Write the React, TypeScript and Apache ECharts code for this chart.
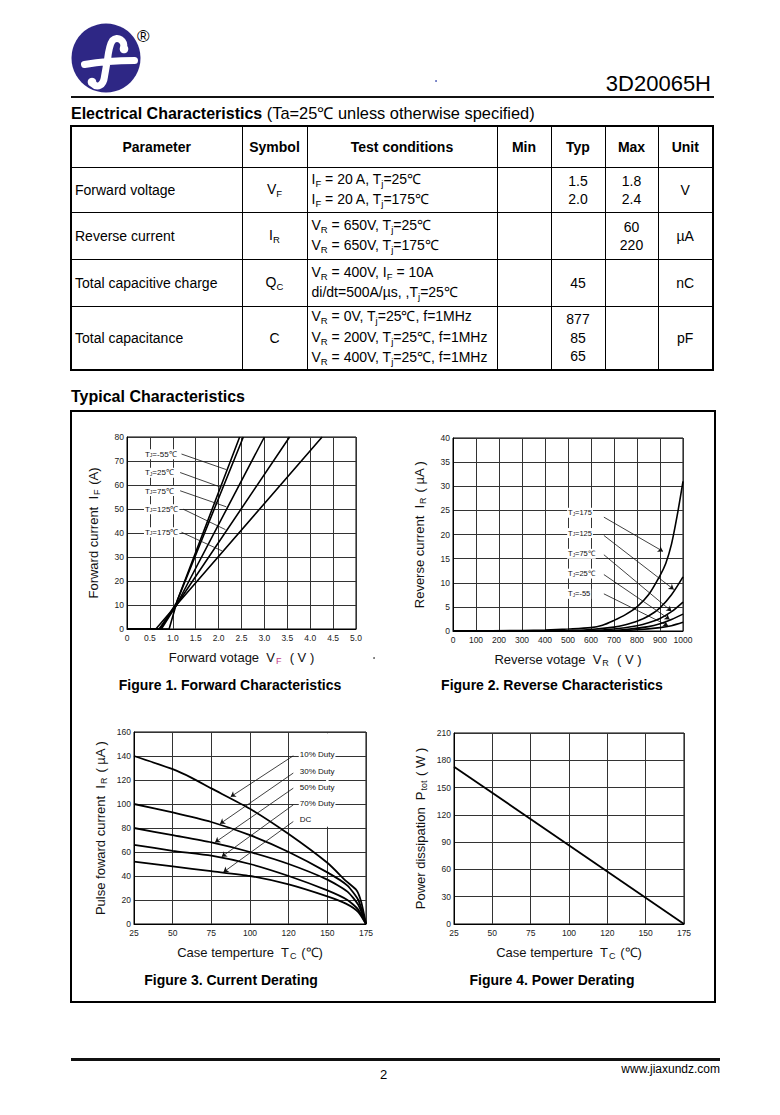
import React, { useEffect, useRef } from "react";
import * as echarts from "echarts";

const FONT = '"Liberation Sans", Arial, Helvetica, sans-serif';

// ---------- Figure 1: Forward characteristics  IF (A) vs VF (V)
const fwdTemps = ["=-55℃", "=25℃", "=75℃", "=125℃", "=175℃"];
const fwdCurveM55 = [[0, 0], [0.92, 0], [1.1, 12], [2.46, 80]];
const fwdCurve25 = [[0, 0], [0.72, 0], [1.08, 11], [2.54, 80]];
const fwdCurve75 = [[0, 0], [0.75, 0], [1.08, 10], [3.0, 80]];
const fwdCurve125 = [[0, 0], [0.7, 0], [1.08, 10], [3.55, 80]];
const fwdCurve175 = [[0, 0], [0.63, 0], [1.08, 10], [4.26, 80]];
const fwdLabelAt = [[0.36, 72.8], [0.36, 65.1], [0.36, 57.5], [0.36, 49.9], [0.36, 40.3]];
const fwdPointers = [
  [[1.19, 72.9], [2.17, 66.4]],
  [[1.16, 65.2], [2.06, 59.0]],
  [[1.16, 57.6], [2.17, 50.9]],
  [[1.23, 49.9], [2.15, 41.4]],
  [[1.19, 40.3], [2.08, 32.5]],
];

// ---------- Figure 2: Reverse characteristics  IR (µA) vs VR (V)
const revTemps = ["=175", "=125", "=75℃", "=25℃", "=-55"];
const revCurve175 = [[0, 0], [300, 0.1], [400, 0.2], [500, 0.4], [600, 0.7], [650, 1.2], [700, 2.2], [750, 3.4], [800, 5], [850, 7.5], [900, 11.5], [925, 14], [950, 18], [975, 24], [1000, 31]];
const revCurve125 = [[0, 0], [500, 0.1], [600, 0.3], [700, 0.8], [750, 1.3], [800, 2], [850, 3.1], [900, 4.8], [950, 7.5], [1000, 11.2]];
const revCurve75 = [[0, 0], [600, 0.1], [700, 0.4], [800, 1.1], [850, 1.7], [900, 2.6], [950, 4], [1000, 6]];
const revCurve25 = [[0, 0], [650, 0.05], [750, 0.3], [850, 0.9], [900, 1.5], [950, 2.4], [1000, 3.5]];
const revCurveM55 = [[0, 0], [700, 0.05], [800, 0.25], [900, 0.7], [950, 1.1], [1000, 1.8]];
const revLabelAt = [[494, 24.5], [494, 20.3], [494, 16.0], [494, 11.9], [494, 7.7]];
const revPointers = [
  [[656, 23.6], [913, 16.5]],
  [[656, 19.8], [960, 8.6]],
  [[656, 15.8], [950, 4.1]],
  [[656, 11.7], [942, 2.4]],
  [[656, 7.7], [935, 1.1]],
];

// ---------- Figure 3: Current derating  IF vs TC (℃)
const derateXLabels = ["25", "50", "75", "100", "120", "150", "175"];
const dutyNames = ["10% Duty", "30% Duty", "50% Duty", "70% Duty", "DC"];
const duty10 = [[25, 140], [50, 129], [62, 122], [75, 113], [100, 96], [125, 75], [150, 51], [162, 36], [169, 28], [172, 18], [175, 0]];
const duty30 = [[25, 100], [50, 93], [75, 85], [100, 74], [125, 60], [150, 43], [163, 32], [170, 20], [175, 0]];
const duty50 = [[25, 80], [50, 74], [75, 68], [100, 60], [125, 50], [150, 37], [163, 27], [170, 16], [175, 0]];
const duty70 = [[25, 66], [50, 61], [75, 57], [100, 50], [125, 40], [150, 28], [163, 20], [170, 12], [175, 0]];
const dutyDC = [[25, 52], [50, 48], [75, 44], [100, 40], [125, 33], [150, 23], [162, 17], [170, 10], [175, 0]];
const dutyLabelAt = [[131.2, 141.6], [131.2, 127.2], [131.2, 113.8], [131.2, 100.2], [131.2, 86.8]];
const dutyPointers = [
  [[128, 140.2], [87.5, 106.0]],
  [[128, 125.8], [80.6, 83.5]],
  [[128, 113.2], [77.4, 68.0]],
  [[128, 99.3], [81.7, 56.0]],
  [[128, 85.4], [82.8, 43.2]],
];
// the 150 ℃ grid line is interrupted above 80 in the original
const dutyGridGap = [[150, 81], [150, 159]];

// ---------- Figure 4: Power derating  Ptot (W) vs TC (℃)
const powerLine = [[25, 173], [175, 0]];

// logo glyph (stroke path, local 69x69 box)
const LOGO_F =
  "M 52 25 C 54 17 46 12 41 17 C 38 21 37 28 36 36 L 33 53 C 32 62 26 65 21 60 M 13 41 C 30 38 50 37 63 37";
echarts.graphic.registerShape("logoF", echarts.graphic.extendPath(LOGO_F, {}));

const nameRich = {
  a: { fontFamily: FONT, fontSize: 13, color: "#111", lineHeight: 18 },
  s: { fontFamily: FONT, fontSize: 9, color: "#111", padding: [7, 1, 0, 1] },
  p: { fontFamily: FONT, fontSize: 9, color: "#c03a86", padding: [7, 1, 0, 1] },
};

function tLabel(rest: string) {
  return "{a|T}{s|J}{a|" + rest + "}";
}

function makeX(gridIndex: number, min: number, max: number, interval: number, name: string, fmt?: any) {
  return {
    type: "value",
    gridIndex,
    min,
    max,
    interval,
    name,
    nameLocation: "middle",
    nameGap: 19,
    nameTextStyle: { fontFamily: FONT, fontSize: 13, color: "#111", rich: nameRich },
    axisLine: { show: true, lineStyle: { color: "#000", width: 1 } },
    axisTick: { show: false },
    axisLabel: { fontFamily: FONT, fontSize: 8.5, color: "#222", margin: 4, formatter: fmt || ((v: number) => String(v)) },
    splitLine: { show: true, lineStyle: { color: "#333", width: 1 } },
  };
}

function makeY(gridIndex: number, min: number, max: number, interval: number, name: string) {
  return {
    type: "value",
    gridIndex,
    min,
    max,
    interval,
    name,
    nameLocation: "middle",
    nameGap: 25,
    nameTextStyle: { fontFamily: FONT, fontSize: 13, color: "#111", rich: nameRich },
    axisLine: { show: true, lineStyle: { color: "#000", width: 1 } },
    axisTick: { show: false },
    axisLabel: { fontFamily: FONT, fontSize: 8.5, color: "#222", margin: 3, formatter: (v: number) => String(v) },
    splitLine: { show: true, lineStyle: { color: "#333", width: 1 } },
  };
}

function curve(idx: number, data: number[][], width: number, smooth: any = false) {
  return {
    type: "line",
    xAxisIndex: idx,
    yAxisIndex: idx,
    data,
    symbol: "none",
    smooth,
    silent: true,
    lineStyle: { color: "#000", width },
    z: 3,
  };
}

function pointers(idx: number, list: number[][][], arrow: boolean) {
  return {
    type: "lines",
    coordinateSystem: "cartesian2d",
    xAxisIndex: idx,
    yAxisIndex: idx,
    silent: true,
    symbol: arrow ? ["none", "arrow"] : ["none", "none"],
    symbolSize: 5,
    lineStyle: { color: "#111", width: 0.8, opacity: 1, curveness: 0 },
    data: list.map((c) => ({ coords: c })),
    z: 4,
  };
}

function labels(idx: number, pos: number[][], texts: string[], size: number) {
  return {
    type: "scatter",
    xAxisIndex: idx,
    yAxisIndex: idx,
    silent: true,
    symbolSize: 1,
    itemStyle: { color: "rgba(0,0,0,0)" },
    z: 5,
    data: pos.map((p, i) => ({ value: p, name: texts[i] })),
    labelLayout: { hideOverlap: false },
    label: {
      show: true,
      position: "right",
      distance: 0,
      formatter: (p: any) => p.name,
      backgroundColor: "#fff",
      padding: [1, 1, 1, 1],
      rich: {
        a: { fontFamily: FONT, fontSize: size, color: "#111" },
        s: { fontFamily: FONT, fontSize: size * 0.62, color: "#111", padding: [3, 0, 0, 0] },
      },
      fontFamily: FONT,
      fontSize: size,
      color: "#111",
      opacity: 1,
    },
  };
}

function caption(text: string, x: number, y: number) {
  return {
    type: "text",
    x,
    y,
    silent: true,
    style: {
      text,
      font: 'bold 14px "Liberation Sans", Arial, sans-serif',
      fill: "#000",
      textAlign: "center",
      align: "center",
      textVerticalAlign: "middle",
      verticalAlign: "middle",
    },
  };
}

const option: any = {
  animation: false,
  backgroundColor: "transparent",
  grid: [
    { left: 127, top: 437, width: 229, height: 192, show: true, borderColor: "#000", borderWidth: 1 },
    { left: 453, top: 438, width: 230, height: 193, show: true, borderColor: "#000", borderWidth: 1 },
    { left: 134, top: 732, width: 232, height: 192, show: true, borderColor: "#000", borderWidth: 1 },
    { left: 454, top: 733, width: 230, height: 191, show: true, borderColor: "#000", borderWidth: 1 },
  ],
  xAxis: [
    makeX(0, 0, 5, 0.5, "{a|Forward votage  V}{p|F}{a|  ( V )}", (v: number) => (v === 0 ? "0" : v.toFixed(1))),
    makeX(1, 0, 1000, 100, "{a|Reverse votage  V}{s|R}{a|  ( V )}"),
    makeX(2, 25, 175, 25, "{a|Case temperture  T}{s|C}{a| (℃)}", (v: number) => derateXLabels[Math.round((v - 25) / 25)]),
    makeX(3, 25, 175, 25, "{a|Case temperture  T}{s|C}{a| (℃)}", (v: number) => derateXLabels[Math.round((v - 25) / 25)]),
  ],
  yAxis: [
    makeY(0, 0, 80, 10, "{a|Forward current  I}{s|F}{a| (A)}"),
    makeY(1, 0, 40, 5, "{a|Reverse current  I}{s|R}{a| ( µA )}"),
    makeY(2, 0, 160, 20, "{a|Pulse foward current  I}{s|R}{a| ( µA )}"),
    makeY(3, 0, 210, 30, "{a|Power dissipation  P}{s|tot}{a| ( W )}"),
  ],
  series: [
    curve(0, fwdCurveM55, 1.6),
    curve(0, fwdCurve25, 1.6),
    curve(0, fwdCurve75, 1.6),
    curve(0, fwdCurve125, 1.6),
    curve(0, fwdCurve175, 1.6),
    pointers(0, fwdPointers, false),
    labels(0, fwdLabelAt, fwdTemps.map(tLabel), 8),

    curve(1, revCurve175, 1.6, 0.3),
    curve(1, revCurve125, 1.6, 0.3),
    curve(1, revCurve75, 1.6, 0.3),
    curve(1, revCurve25, 1.6, 0.3),
    curve(1, revCurveM55, 1.6, 0.3),
    pointers(1, revPointers, true),
    labels(1, revLabelAt, revTemps.map(tLabel), 7.5),

    // white mask over the interrupted 150 ℃ grid line (drawn under curves)
    {
      type: "line",
      xAxisIndex: 2,
      yAxisIndex: 2,
      data: dutyGridGap,
      symbol: "none",
      silent: true,
      lineStyle: { color: "#fff", width: 2.5, cap: "butt" },
      z: 1,
    },
    curve(2, duty10, 1.8, 0.2),
    curve(2, duty30, 1.8, 0.2),
    curve(2, duty50, 1.8, 0.2),
    curve(2, duty70, 1.8, 0.2),
    curve(2, dutyDC, 1.8, 0.2),
    pointers(2, dutyPointers, true),
    labels(2, dutyLabelAt, dutyNames.map((d) => "{a|" + d + "}"), 8),

    curve(3, powerLine, 1.8),
  ],
  graphic: [
    {
      type: "rect",
      silent: true,
      shape: { x: 71, y: 411, width: 644, height: 591 },
      style: { fill: "none", stroke: "#000", lineWidth: 2 },
    },
    caption("Figure 1. Forward Characteristics", 230, 685),
    caption("Figure 2. Reverse Characteristics", 552, 685),
    caption("Figure 3. Current Derating", 231, 980),
    caption("Figure 4. Power Derating", 552, 980),
    { type: "circle", silent: true, shape: { cx: 374, cy: 658, r: 0.8 }, style: { fill: "#444" } },
    { type: "circle", silent: true, shape: { cx: 436, cy: 81, r: 0.8 }, style: { fill: "#3344aa" } },
    // logo
    { type: "circle", silent: true, shape: { cx: 106, cy: 58, r: 34.5 }, style: { fill: "#2e2785" } },
    {
      type: "logoF",
      silent: true,
      x: 71.5,
      y: 23.5,
      scaleX: 1,
      scaleY: 1,
      style: { fill: "none", stroke: "#fff", lineWidth: 7, lineCap: "round" },
    },
    { type: "circle", silent: true, shape: { cx: 71.5 + 52.5, cy: 23.5 + 25.5, r: 4.3 }, style: { fill: "#fff" } },
    { type: "circle", silent: true, shape: { cx: 71.5 + 20.5, cy: 23.5 + 58.5, r: 4.3 }, style: { fill: "#fff" } },
  ],
};

const Sub = ({ c }: { c: string }) => (
  <span style={{ fontSize: 9.5, position: "relative", top: 3 }}>{c}</span>
);

const td: React.CSSProperties = {
  border: "1px solid #000",
  padding: 0,
  verticalAlign: "middle",
  fontSize: 14,
  lineHeight: "18px",
};
const tdc: React.CSSProperties = { ...td, textAlign: "center" };
const tdl: React.CSSProperties = { ...td, textAlign: "left", paddingLeft: 3 };
const tdt: React.CSSProperties = { ...td, textAlign: "left", paddingLeft: 4 };
const th: React.CSSProperties = { ...tdc, fontWeight: "bold", fontSize: 14 };

export default function App() {
  const ref = useRef<HTMLDivElement>(null);
  useEffect(() => {
    const chart = echarts.init(ref.current!, null, { renderer: "svg" });
    chart.setOption(option);
    return () => chart.dispose();
  }, []);

  return (
    <div
      style={{
        position: "absolute",
        left: 0,
        top: 0,
        width: 780,
        height: 1115,
        background: "#fff",
        fontFamily: FONT,
        color: "#000",
        overflow: "hidden",
      }}
    >
      <div style={{ position: "absolute", left: 137, top: 27, fontSize: 17, lineHeight: "20px" }}>®</div>
      <div style={{ position: "absolute", right: 69, top: 72, fontSize: 22, lineHeight: "24px" }}>3D20065H</div>
      <div style={{ position: "absolute", left: 71, top: 95.5, width: 643, height: 2.5, background: "#111" }} />

      <div style={{ position: "absolute", left: 71, top: 103, fontSize: 16, lineHeight: "20px", whiteSpace: "nowrap" }}>
        <b>Electrical Characteristics</b>
        <span style={{ fontSize: 16.4 }}> (Ta=25℃ unless otherwise specified)</span>
      </div>

      <table
        style={{
          position: "absolute",
          left: 70,
          top: 125,
          borderCollapse: "collapse",
          tableLayout: "fixed",
          border: "2px solid #000",
          fontFamily: FONT,
          width: 644,
        }}
      >
        <colgroup>
          <col style={{ width: 171 }} />
          <col style={{ width: 65 }} />
          <col style={{ width: 190 }} />
          <col style={{ width: 54 }} />
          <col style={{ width: 54 }} />
          <col style={{ width: 53 }} />
          <col style={{ width: 55 }} />
        </colgroup>
        <tbody>
          <tr style={{ height: 41 }}>
            <td style={th}>Parameter</td>
            <td style={th}>Symbol</td>
            <td style={th}>Test conditions</td>
            <td style={th}>Min</td>
            <td style={th}>Typ</td>
            <td style={th}>Max</td>
            <td style={th}>Unit</td>
          </tr>
          <tr style={{ height: 45 }}>
            <td style={tdl}>Forward voltage</td>
            <td style={tdc}>
              V<Sub c="F" />
            </td>
            <td style={tdt}>
              I<Sub c="F" /> = 20 A, T<Sub c="j" />=25℃
              <br />
              I<Sub c="F" /> = 20 A, T<Sub c="j" />=175℃
            </td>
            <td style={tdc}></td>
            <td style={tdc}>
              1.5
              <br />
              2.0
            </td>
            <td style={tdc}>
              1.8
              <br />
              2.4
            </td>
            <td style={tdc}>V</td>
          </tr>
          <tr style={{ height: 47 }}>
            <td style={tdl}>Reverse current</td>
            <td style={tdc}>
              I<Sub c="R" />
            </td>
            <td style={tdt}>
              V<Sub c="R" /> = 650V, T<Sub c="j" />=25℃
              <br />
              V<Sub c="R" /> = 650V, T<Sub c="j" />=175℃
            </td>
            <td style={tdc}></td>
            <td style={tdc}></td>
            <td style={tdc}>
              60
              <br />
              220
            </td>
            <td style={tdc}>µA</td>
          </tr>
          <tr style={{ height: 47 }}>
            <td style={tdl}>Total capacitive charge</td>
            <td style={tdc}>
              Q<Sub c="C" />
            </td>
            <td style={tdt}>
              V<Sub c="R" /> = 400V, I<Sub c="F" /> = 10A
              <br />
              di/dt=500A/µs, ,T<Sub c="j" />=25℃
            </td>
            <td style={tdc}></td>
            <td style={tdc}>45</td>
            <td style={tdc}></td>
            <td style={tdc}>nC</td>
          </tr>
          <tr style={{ height: 64 }}>
            <td style={tdl}>Total capacitance</td>
            <td style={tdc}>C</td>
            <td style={{ ...tdt, lineHeight: "18.5px" }}>
              V<Sub c="R" /> = 0V, T<Sub c="j" />=25℃, f=1MHz
              <br />
              V<Sub c="R" /> = 200V, T<Sub c="j" />=25℃, f=1MHz
              <br />
              V<Sub c="R" /> = 400V, T<Sub c="j" />=25℃, f=1MHz
            </td>
            <td style={tdc}></td>
            <td style={{ ...tdc, lineHeight: "18.5px" }}>
              877
              <br />
              85
              <br />
              65
            </td>
            <td style={tdc}></td>
            <td style={tdc}>pF</td>
          </tr>
        </tbody>
      </table>

      <div style={{ position: "absolute", left: 71, top: 387, fontSize: 16, lineHeight: "20px", fontWeight: "bold" }}>
        Typical Characteristics
      </div>

      {/* footer */}
      <div style={{ position: "absolute", left: 71, top: 1058, width: 649, height: 2.5, background: "#111" }} />
      <div style={{ position: "absolute", left: 380, top: 1067, fontSize: 13, lineHeight: "16px" }}>2</div>
      <div style={{ position: "absolute", right: 60, top: 1062, fontSize: 12, lineHeight: "14px" }}>www.jiaxundz.com</div>

      <div ref={ref} style={{ position: "absolute", left: 0, top: 0, width: 780, height: 1115 }} />
    </div>
  );
}
